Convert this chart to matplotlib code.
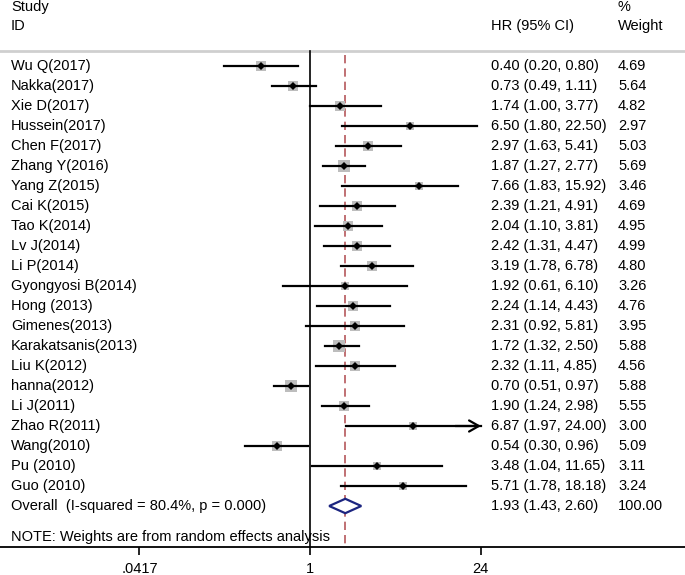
import numpy as np
import matplotlib
matplotlib.use("Agg")
import matplotlib.pyplot as plt
import matplotlib.transforms as mtransforms

plt.rcParams['font.family'] = ['Liberation Sans', 'DejaVu Sans']

studies = ["Wu Q(2017)", "Nakka(2017)", "Xie D(2017)", "Hussein(2017)", "Chen F(2017)",
           "Zhang Y(2016)", "Yang Z(2015)", "Cai K(2015)", "Tao K(2014)", "Lv J(2014)",
           "Li P(2014)", "Gyongyosi B(2014)", "Hong (2013)", "Gimenes(2013)",
           "Karakatsanis(2013)", "Liu K(2012)", "hanna(2012)", "Li J(2011)",
           "Zhao R(2011)", "Wang(2010)", "Pu (2010)", "Guo (2010)"]
hr = [0.40, 0.73, 1.74, 6.50, 2.97, 1.87, 7.66, 2.39, 2.04, 2.42, 3.19, 1.92, 2.24, 2.31,
      1.72, 2.32, 0.70, 1.90, 6.87, 0.54, 3.48, 5.71]
lo = [0.20, 0.49, 1.00, 1.80, 1.63, 1.27, 1.83, 1.21, 1.10, 1.31, 1.78, 0.61, 1.14, 0.92,
      1.32, 1.11, 0.51, 1.24, 1.97, 0.30, 1.04, 1.78]
hi = [0.80, 1.11, 3.77, 22.50, 5.41, 2.77, 15.92, 4.91, 3.81, 4.47, 6.78, 6.10, 4.43, 5.81,
      2.50, 4.85, 0.97, 2.98, 24.00, 0.96, 11.65, 18.18]
weight = [4.69, 5.64, 4.82, 2.97, 5.03, 5.69, 3.46, 4.69, 4.95, 4.99, 4.80, 3.26, 4.76, 3.95,
          5.88, 4.56, 5.88, 5.55, 3.00, 5.09, 3.11, 3.24]
overall_label = "Overall  (I-squared = 80.4%, p = 0.000)"
overall = (1.93, 1.43, 2.60)
overall_weight = "100.00"
note = "NOTE: Weights are from random effects analysis"
xticks = [1/24, 1, 24]
xticklabels = [".0417", "1", "24"]
clip_max = 24

W, H = 685, 575
fig = plt.figure(figsize=(W/100, H/100), dpi=100)
axis_px = 547
ax = fig.add_axes([0, (H-axis_px)/H, 1, axis_px/H])
ax.set_xscale('log')
ppl = 53.65  # pixels per ln unit
ax.set_xlim(np.exp(-310/ppl), np.exp((W-310)/ppl))
row0, rowh = 66, 20
ax.set_ylim((axis_px-row0)/rowh, (0-row0)/rowh)

for s in ['top', 'left', 'right']:
    ax.spines[s].set_visible(False)
ax.spines['bottom'].set_linewidth(1.3)
ax.set_yticks([])
ax.set_xticks(xticks)
ax.set_xticklabels(xticklabels, fontsize=10.5)
ax.minorticks_off()
ax.tick_params(axis='x', direction='out', length=6, width=1.2, pad=5)

FS = 10.5
XL = 11/W
tr = mtransforms.blended_transform_factory(ax.transAxes, ax.transData)
ax.text(XL, -2.95, "Study", transform=tr, fontsize=FS, va='center', ha='left')
ax.text(XL, -2.0, "ID", transform=tr, fontsize=FS, va='center', ha='left')
ax.text(491/W, -2.0, "HR (95% CI)", transform=tr, fontsize=FS, va='center', ha='left')
ax.text(618/W, -2.95, "%", transform=tr, fontsize=FS, va='center', ha='left')
ax.text(618/W, -2.0, "Weight", transform=tr, fontsize=FS, va='center', ha='left')
ax.axhline(-0.75, color='#cfcfcf', lw=2, xmin=0, xmax=1, zorder=1)

# reference lines
ax.plot([1, 1], [-0.75, (axis_px-row0)/rowh], color='black', lw=1.2, zorder=2)
ax.plot([overall[0]]*2, [-0.55, (axis_px-row0)/rowh], color='#b5575b', lw=1.2,
        dashes=(5, 3), zorder=2)

for i, (name, h, l, u, w) in enumerate(zip(studies, hr, lo, hi, weight)):
    y = i
    ax.plot(h, y, marker='s', markersize=3.33*np.sqrt(w), color='#bdbdbd',
            markeredgewidth=0, zorder=3)
    ax.plot([l, u], [y, y], color='black', lw=1.6, zorder=4)
    if u >= clip_max:
        ax.annotate("", xy=(u*1.01, y), xytext=(u/1.6, y),
                    arrowprops=dict(arrowstyle='->,head_length=0.7,head_width=0.4',
                                    color='black', lw=1.6, shrinkA=0, shrinkB=0), zorder=4)
    ax.plot(h, y, marker='D', markersize=4, color='black', markeredgewidth=0, zorder=5)
    ax.text(XL, y, name, transform=tr, fontsize=FS, va='center', ha='left')
    ax.text(491/W, y, f"{h:.2f} ({l:.2f}, {u:.2f})", transform=tr, fontsize=FS,
            va='center', ha='left')
    ax.text(618/W, y, f"{w:.2f}", transform=tr, fontsize=FS, va='center', ha='left')

yo = len(studies)
est, olo, ohi = overall
dh = 0.36
ax.fill([olo, est, ohi, est, olo], [yo, yo-dh, yo, yo+dh, yo], facecolor='white',
        edgecolor='#1c2580', lw=1.6, zorder=4)
ax.text(XL, yo, overall_label, transform=tr, fontsize=FS, va='center', ha='left')
ax.text(491/W, yo, f"{est:.2f} ({olo:.2f}, {ohi:.2f})", transform=tr, fontsize=FS,
        va='center', ha='left')
ax.text(618/W, yo, overall_weight, transform=tr, fontsize=FS, va='center', ha='left')
ax.text(XL, (537-row0)/rowh, note, transform=tr, fontsize=FS, va='center', ha='left',
        zorder=1)

fig.savefig("out.png", dpi=100)
